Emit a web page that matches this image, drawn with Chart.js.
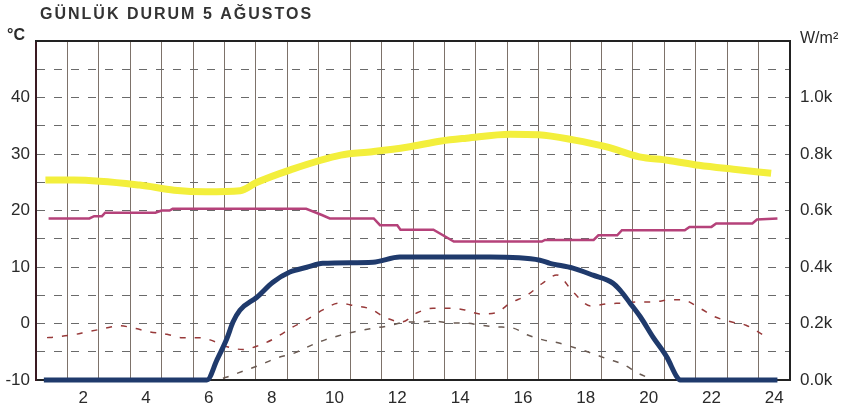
<!DOCTYPE html>
<html lang="tr">
<head>
  <meta charset="UTF-8" />
  <title>Günlük Durum</title>
  <script src="https://cdn.jsdelivr.net/npm/chart.js"></script>
  <style>
    body {
      margin: 0;
      background: #fff;
    }
    canvas {
      display: block;
    }
  </style>
</head>
<body>
  <canvas id="gunlukChart" width="854" height="413"></canvas>

  <script>
    // Saat ekseni (etiketler 1..24, sadece çiftler yazılıyor)
    const hours = [1, 2, 3, 4, 5, 6, 7, 8, 9, 10, 11, 12, 13, 14, 15, 16, 17, 18, 19, 20, 21, 22, 23, 24];

    // Sarı eğri (°C)
    const tempAHours = [0.8, 1.7, 3.8, 4.9, 5.9, 7.0, 7.5, 8.6, 10.2, 11.2, 12.3, 13.4, 14.2, 15.6, 16.5, 17.6, 18.7, 19.7, 20.6, 21.6, 22.7, 23.9];
    const tempAValues = [25.4, 25.4, 24.5, 23.6, 23.3, 23.5, 24.9, 27.2, 29.8, 30.4, 31.2, 32.3, 32.8, 33.5, 33.4, 32.5, 31.2, 29.5, 28.9, 28.0, 27.3, 26.6];

    // Pembe eğri (°C)
    const tempBHours = [0.9, 2.2, 2.35, 2.6, 2.7, 4.3, 4.5, 4.75, 4.85, 9.1, 9.6, 9.85, 11.25, 11.45, 12.0, 12.1, 13.15, 13.8, 16.6, 16.7, 18.25, 18.4, 19.0, 19.15, 21.15, 21.3, 22.0, 22.15, 23.3, 23.45, 24.1];
    const tempBValues = [18.6, 18.6, 19.0, 19.0, 19.6, 19.6, 20.0, 20.0, 20.3, 20.3, 19.2, 18.6, 18.6, 17.4, 17.4, 16.6, 16.6, 14.5, 14.5, 14.8, 14.8, 15.6, 15.6, 16.5, 16.5, 17.1, 17.1, 17.7, 17.7, 18.4, 18.6];

    // Kesikli üst eğri (°C)
    const tempCHours = [0.85, 1.07, 1.68, 2.12, 2.66, 3.14, 3.68, 4.13, 4.67, 5.11, 5.72, 6.04, 6.58, 7.09, 7.63, 8.07, 8.68, 9.09, 9.63, 10.14, 10.68, 11.13, 11.64, 12.15, 12.63, 13.14, 13.68, 14.15, 14.63, 15.14, 15.59, 16.13, 16.64, 17.08, 17.59, 18.16, 18.7, 19.18, 19.66, 20.14, 20.68, 21.06, 21.63, 22.1, 22.62, 23.1, 23.64];
    const tempCValues = [-2.5, -2.4, -2.0, -1.5, -0.9, -0.4, -0.9, -1.5, -1.9, -2.5, -2.5, -2.9, -4.1, -4.6, -3.8, -2.7, -0.6, 0.6, 2.4, 3.6, 3.1, 2.6, 1.0, 0.3, 1.9, 2.7, 2.7, 2.4, 1.7, 1.9, 3.6, 5.0, 7.2, 8.6, 5.6, 3.1, 3.5, 3.6, 3.8, 3.8, 4.2, 4.2, 2.7, 1.2, 0.3, -0.3, -2.0];

    // Kesikli alt eğri (°C)
    const tempDHours = [6.45, 6.67, 7.15, 7.66, 8.11, 8.74, 9.12, 9.7, 10.18, 10.68, 11.16, 11.73, 12.21, 12.72, 13.17, 13.68, 14.15, 14.66, 15.17, 15.68, 16.13, 16.64, 17.18, 17.65, 18.16, 18.7, 19.18, 19.66, 20.04];
    const tempDValues = [-9.7, -9.3, -8.3, -7.3, -6.2, -5.2, -4.2, -2.9, -2.1, -1.4, -0.9, -0.4, 0.2, 0.3, 0.4, 0.1, 0.1, -0.3, -0.6, -0.8, -2.0, -2.9, -3.5, -4.3, -5.2, -6.3, -7.2, -8.8, -9.7];

    // Güneş ışınımı (W/m²)
    const radHours = [0.75, 5.94, 6.26, 6.58, 6.77, 6.99, 7.53, 8.04, 8.58, 9.12, 9.63, 11.23, 12.08, 14.95, 16.54, 16.86, 17.59, 18.23, 18.86, 19.09, 19.41, 19.74, 20.14, 20.58, 20.9, 21.0, 24.1];
    const radValues = [0, 0, 71, 148, 205, 247, 293, 346, 382, 399, 413, 417, 435, 435, 424, 413, 396, 371, 343, 318, 272, 223, 152, 81, 11, 0, 0];

    const pairs = (xs, ys) => xs.map((x, i) => ({ x: x, y: ys[i] }));

    const tickFont = { family: 'Liberation Sans, Arial, sans-serif', size: 17 };

    // Başlık, birimler ve üst çerçeve çizgisi
    const frameAndText = {
      id: 'frameAndText',
      beforeDatasetsDraw(chart) {
        const { ctx, chartArea } = chart;
        ctx.save();
        ctx.strokeStyle = '#222';
        ctx.lineWidth = 2;
        ctx.beginPath();
        ctx.moveTo(chartArea.left - 1, chartArea.top);
        ctx.lineTo(chartArea.right + 1, chartArea.top);
        ctx.stroke();
        ctx.restore();
      },
      afterDraw(chart) {
        const { ctx, chartArea } = chart;
        ctx.save();
        ctx.fillStyle = '#333';
        ctx.textBaseline = 'middle';
        ctx.font = 'bold 16px "Liberation Sans", Arial, sans-serif';
        ctx.letterSpacing = '2px';
        ctx.fillText('GÜNLÜK DURUM 5 AĞUSTOS', chartArea.left + 4, 15);
        ctx.letterSpacing = '0px';
        ctx.fillStyle = '#2a2a2a';
        ctx.font = 'bold 16px "Liberation Sans", Arial, sans-serif';
        ctx.fillText('°C', 7, chartArea.top - 5);
        ctx.font = '16px "Liberation Sans", Arial, sans-serif';
        ctx.fillText('W/m²', chartArea.right + 10, chartArea.top - 2);
        ctx.restore();
      }
    };

    const ctx = document.getElementById('gunlukChart').getContext('2d');
    new Chart(ctx, {
      type: 'line',
      data: {
        datasets: [
          {
            label: 'Işınım',
            data: pairs(radHours, radValues),
            yAxisID: 'y2',
            borderColor: '#1f3a6c',
            borderWidth: 5,
            cubicInterpolationMode: 'monotone',
            pointRadius: 0,
            clip: false
          },
          {
            label: 'Sıcaklık',
            data: pairs(tempAHours, tempAValues),
            yAxisID: 'y',
            borderColor: '#f3ef3c',
            borderWidth: 7,
            cubicInterpolationMode: 'monotone',
            pointRadius: 0
          },
          {
            label: 'Seri B',
            data: pairs(tempBHours, tempBValues),
            yAxisID: 'y',
            borderColor: '#b5427a',
            borderWidth: 2.5,
            tension: 0,
            pointRadius: 0
          },
          {
            label: 'Seri C',
            data: pairs(tempCHours, tempCValues),
            yAxisID: 'y',
            borderColor: '#983a3a',
            borderWidth: 1.5,
            borderDash: [6, 9],
            cubicInterpolationMode: 'monotone',
            pointRadius: 0
          },
          {
            label: 'Seri D',
            data: pairs(tempDHours, tempDValues),
            yAxisID: 'y',
            borderColor: '#6a5a52',
            borderWidth: 1.5,
            borderDash: [6, 9],
            cubicInterpolationMode: 'monotone',
            pointRadius: 0
          }
        ]
      },
      options: {
        responsive: false,
        animation: false,
        layout: { padding: { top: 41, left: 0, right: 0, bottom: 0 } },
        plugins: {
          legend: { display: false },
          tooltip: { enabled: false }
        },
        scales: {
          x: {
            type: 'linear',
            min: 0.5,
            max: 24.5,
            afterBuildTicks: (scale) => {
              scale.ticks = hours.map(v => ({ value: v }));
            },
            afterFit: (scale) => { scale.height = 33; },
            ticks: {
              autoSkip: false,
              maxRotation: 0,
              padding: 8,
              color: '#2a2a2a',
              font: tickFont,
              callback: (v) => (v % 2 === 0 ? String(v) : '')
            },
            grid: {
              offset: true,
              color: '#7d726a',
              lineWidth: 1,
              drawTicks: false
            },
            border: { display: true, color: '#222', width: 2 }
          },
          y: {
            position: 'left',
            min: -10,
            max: 50,
            afterFit: (scale) => { scale.width = 36; },
            ticks: {
              stepSize: 5,
              padding: 6,
              color: '#2a2a2a',
              font: tickFont,
              callback: (v) => (v % 10 === 0 && v < 50 ? String(v) : '')
            },
            grid: {
              color: '#6a6a6a',
              lineWidth: 1,
              drawTicks: false
            },
            border: { display: true, color: '#3a1a22', width: 2, dash: [8, 9] }
          },
          y2: {
            position: 'right',
            min: 0,
            max: 1200,
            afterFit: (scale) => { scale.width = 64; },
            ticks: {
              stepSize: 200,
              padding: 10,
              color: '#2a2a2a',
              font: tickFont,
              callback: (v) => (v < 1200 ? (v / 1000).toFixed(1) + 'k' : '')
            },
            grid: { display: false, drawTicks: false },
            border: { display: true, color: '#222', width: 2 }
          }
        }
      },
      plugins: [frameAndText]
    });
  </script>
</body>
</html>
